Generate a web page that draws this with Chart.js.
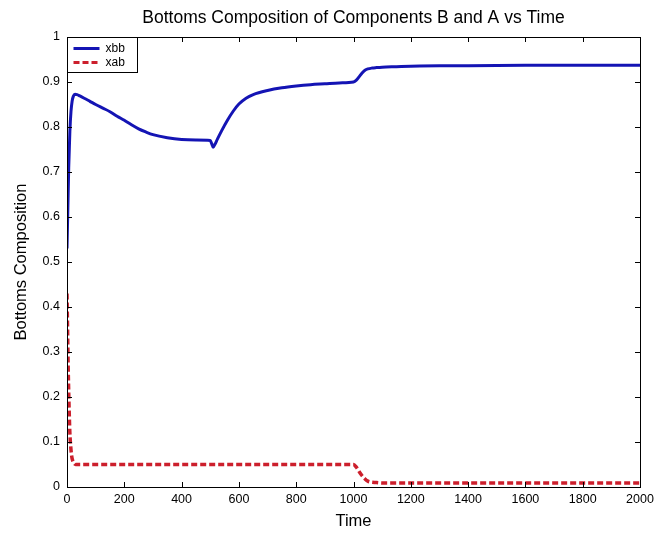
<!DOCTYPE html>
<html>
<head>
<meta charset="utf-8">
<script src="https://cdn.jsdelivr.net/npm/chart.js@4/dist/chart.umd.min.js"></script>
<style>
  html, body { margin: 0; padding: 0; background: #ffffff; }
  #wrap { width: 662px; height: 533px; }
</style>
</head>
<body>
<div id="wrap"><canvas id="c" width="662" height="533"></canvas></div>
<script>
// Bottoms composition of component B (xbb) over time
const timeXbb = [0, 3, 6, 10, 14, 18, 22, 28, 35, 45, 60, 80, 100, 125, 150, 175, 200, 225, 250, 275, 300, 350, 400, 450, 500, 505, 510, 516, 525, 540, 560, 580, 600, 625, 650, 700, 750, 800, 850, 900, 950, 1000, 1010, 1020, 1030, 1040, 1050, 1065, 1080, 1100, 1150, 1200, 1300, 1400, 1600, 1800, 2000];
const xbb = [0.53, 0.62, 0.71, 0.79, 0.835, 0.858, 0.868, 0.873, 0.872, 0.869, 0.864, 0.857, 0.850, 0.842, 0.834, 0.824, 0.815, 0.805, 0.796, 0.789, 0.783, 0.776, 0.772, 0.771, 0.770, 0.763, 0.755, 0.761, 0.773, 0.792, 0.815, 0.835, 0.851, 0.864, 0.872, 0.881, 0.887, 0.891, 0.894, 0.896, 0.898, 0.900, 0.904, 0.912, 0.920, 0.926, 0.929, 0.931, 0.932, 0.933, 0.934, 0.935, 0.936, 0.936, 0.937, 0.937, 0.937];

// Bottoms composition of component A (xab) over time
const timeXab = [0, 2, 4, 6, 8, 10, 13, 16, 20, 25, 30, 100, 300, 500, 700, 900, 1000, 1010, 1020, 1030, 1040, 1050, 1060, 1080, 1100, 1200, 1400, 1600, 1800, 2000];
const xab = [0.43, 0.35, 0.27, 0.21, 0.16, 0.12, 0.09, 0.07, 0.058, 0.052, 0.050, 0.050, 0.050, 0.050, 0.050, 0.050, 0.050, 0.044, 0.034, 0.025, 0.018, 0.013, 0.011, 0.010, 0.009, 0.009, 0.009, 0.009, 0.009, 0.009];

// Axis ticks
const xTicks = [0, 200, 400, 600, 800, 1000, 1200, 1400, 1600, 1800, 2000];
const yTicks = [0, 0.1, 0.2, 0.3, 0.4, 0.5, 0.6, 0.7, 0.8, 0.9, 1];

const seriesNames = ['xbb', 'xab'];
const seriesColors = ['#1414b4', '#cc1f2c'];
const chartTitle = 'Bottoms Composition of Components B and A vs Time';

const FONT = "Arial, 'Liberation Sans', Helvetica, sans-serif";

const toPoints = (xs, ys) => xs.map((x, i) => ({ x: x, y: ys[i] }));

// Title centred over the plot box rather than the whole canvas
const plotTitle = {
  id: 'plotTitle',
  afterDraw(chart) {
    const { ctx, chartArea: a } = chart;
    ctx.save();
    ctx.fillStyle = '#000';
    ctx.font = '17.5px ' + FONT;
    ctx.textAlign = 'center';
    ctx.textBaseline = 'middle';
    ctx.fillText(chartTitle, (a.left + a.right) / 2, 18);
    ctx.restore();
  }
};

// Boxed axes with inward tick marks on all four sides
const boxAxes = {
  id: 'boxAxes',
  afterDatasetsDraw(chart) {
    const { ctx, chartArea: a, scales } = chart;
    const len = 5;
    ctx.save();
    ctx.strokeStyle = '#000';
    ctx.lineWidth = 1;
    ctx.beginPath();
    xTicks.forEach(v => {
      const px = Math.round(scales.x.getPixelForValue(v)) + 0.5;
      ctx.moveTo(px, a.bottom); ctx.lineTo(px, a.bottom - len);
      ctx.moveTo(px, a.top); ctx.lineTo(px, a.top + len);
    });
    yTicks.forEach(v => {
      const py = Math.round(scales.y.getPixelForValue(v)) + 0.5;
      ctx.moveTo(a.left, py); ctx.lineTo(a.left + len, py);
      ctx.moveTo(a.right, py); ctx.lineTo(a.right - len, py);
    });
    ctx.stroke();
    ctx.strokeRect(Math.round(a.left) + 0.5, Math.round(a.top) + 0.5,
                   Math.round(a.right - a.left), Math.round(a.bottom - a.top));
    ctx.restore();
  }
};

// Legend box in the upper-left corner of the plot
const cornerLegend = {
  id: 'cornerLegend',
  afterDraw(chart) {
    const { ctx, chartArea: a } = chart;
    const x0 = Math.round(a.left) + 0.5, y0 = Math.round(a.top) + 0.5;
    const w = 70, h = 35;
    ctx.save();
    ctx.fillStyle = '#fff';
    ctx.fillRect(x0, y0, w, h);
    ctx.strokeStyle = '#000';
    ctx.lineWidth = 1;
    ctx.strokeRect(x0, y0, w, h);
    chart.data.datasets.forEach((ds, i) => {
      const cy = y0 + 11 + i * 14;
      ctx.beginPath();
      ctx.strokeStyle = ds.borderColor;
      ctx.lineWidth = 3;
      ctx.setLineDash(ds.borderDash || []);
      ctx.moveTo(x0 + 6, cy); ctx.lineTo(x0 + 32, cy);
      ctx.stroke();
      ctx.setLineDash([]);
      ctx.fillStyle = '#000';
      ctx.font = '12px ' + FONT;
      ctx.textBaseline = 'middle';
      ctx.textAlign = 'left';
      ctx.fillText(ds.label, x0 + 38, cy);
    });
    ctx.restore();
  }
};

new Chart(document.getElementById('c'), {
  type: 'line',
  data: {
    datasets: [
      {
        label: seriesNames[0],
        data: toPoints(timeXbb, xbb),
        borderColor: seriesColors[0],
        borderWidth: 3,
        pointRadius: 0,
        cubicInterpolationMode: 'monotone',
        fill: false
      },
      {
        label: seriesNames[1],
        data: toPoints(timeXab, xab),
        borderColor: seriesColors[1],
        borderWidth: 3.5,
        borderDash: [6, 3],
        pointRadius: 0,
        cubicInterpolationMode: 'monotone',
        fill: false
      }
    ]
  },
  options: {
    responsive: false,
    animation: false,
    layout: { padding: { left: 0, right: 22, top: 37, bottom: 0 } },
    plugins: {
      legend: { display: false },
      tooltip: { enabled: false },
      title: { display: false }
    },
    scales: {
      x: {
        type: 'linear',
        min: 0,
        max: 2000,
        afterBuildTicks: s => { s.ticks = xTicks.map(v => ({ value: v })); },
        afterFit: s => { s.height = 46; },
        grid: { display: false, drawTicks: false },
        border: { display: false },
        ticks: {
          color: '#000',
          padding: 5,
          maxRotation: 0,
          font: { family: FONT, size: 12.5 },
          callback: v => String(v)
        },
        title: {
          display: true,
          text: 'Time',
          color: '#000',
          font: { family: FONT, size: 16.5 },
          padding: { top: 0, bottom: 2 }
        }
      },
      y: {
        type: 'linear',
        min: 0,
        max: 1,
        afterBuildTicks: s => { s.ticks = yTicks.map(v => ({ value: v })); },
        afterFit: s => { s.width = 67; },
        grid: { display: false, drawTicks: false },
        border: { display: false },
        ticks: {
          color: '#000',
          padding: 7,
          font: { family: FONT, size: 12.5 },
          callback: v => String(Math.round(v * 10) / 10)
        },
        title: {
          display: true,
          text: 'Bottoms Composition',
          color: '#000',
          font: { family: FONT, size: 16.5 },
          padding: { top: 12, bottom: 0 }
        }
      }
    }
  },
  plugins: [boxAxes, cornerLegend, plotTitle]
});
</script>
</body>
</html>
